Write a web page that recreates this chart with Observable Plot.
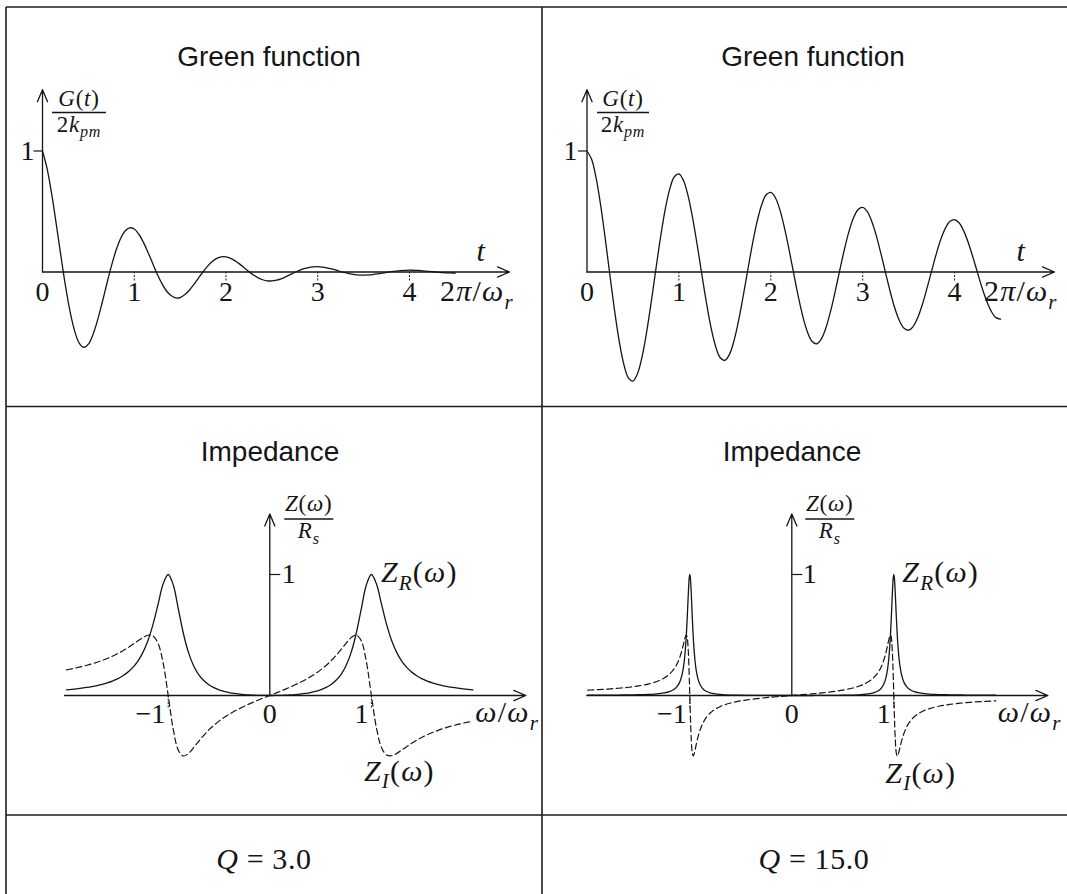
<!DOCTYPE html>
<html>
<head>
<meta charset="utf-8">
<script src="https://cdn.jsdelivr.net/npm/d3@7"></script>
<script src="https://cdn.jsdelivr.net/npm/@observablehq/plot@0.6"></script>
<style>
  html, body { margin: 0; padding: 0; background: #fff; }
  #figure { position: relative; width: 1067px; height: 894px; overflow: hidden; background: #fff; }
</style>
</head>
<body>
<div id="figure"></div>
<script>
// ---- Green function G(t)/2k_pm, t in units of 2π/ω_r ----
const greenT = [0,0.05,0.1,0.15,0.2,0.25,0.3,0.35,0.4,0.45,0.5,0.55,0.6,0.65,0.7,0.75,0.8,0.85,0.9,0.95,1,1.05,1.1,1.15,1.2,1.25,1.3,1.35,1.4,1.45,1.5,1.55,1.6,1.65,1.7,1.75,1.8,1.85,1.9,1.95,2,2.05,2.1,2.15,2.2,2.25,2.3,2.35,2.4,2.45,2.5,2.55,2.6,2.65,2.7,2.75,2.8,2.85,2.9,2.95,3,3.05,3.1,3.15,3.2,3.25,3.3,3.35,3.4,3.45,3.5,3.55,3.6,3.65,3.7,3.75,3.8,3.85,3.9,3.95,4,4.05,4.1,4.15,4.2,4.25,4.3,4.35,4.4,4.45,4.5];
const greenQ3 = [1.000,0.855,0.645,0.396,0.135,-0.113,-0.326,-0.487,-0.587,-0.622,
  -0.596,-0.517,-0.398,-0.254,-0.101,0.047,0.175,0.275,0.339,0.365,
  0.355,0.312,0.245,0.162,0.072,-0.016,-0.093,-0.155,-0.195,-0.214,
  -0.211,-0.188,-0.151,-0.103,-0.050,0.002,0.049,0.086,0.112,0.125,
  0.125,0.113,0.092,0.065,0.034,0.003,-0.025,-0.048,-0.064,-0.073,
  -0.074,-0.068,-0.056,-0.040,-0.022,-0.004,0.013,0.027,0.037,0.042,
  0.044,0.041,0.034,0.025,0.015,0.004,-0.006,-0.015,-0.021,-0.025,
  -0.026,-0.024,-0.021,-0.016,-0.010,-0.003,0.003,0.008,0.012,0.014,
  0.015,0.014,0.013,0.010,0.006,0.002,-0.001,-0.004,-0.007,-0.008,-0.009];
const greenQ15 = [1.000,0.931,0.773,0.544,0.267,-0.031,-0.319,-0.570,-0.761,-0.875,
  -0.901,-0.839,-0.697,-0.491,-0.242,0.026,0.286,0.513,0.685,0.787,
  0.811,0.756,0.629,0.443,0.219,-0.022,-0.256,-0.461,-0.616,-0.709,
  -0.731,-0.681,-0.567,-0.400,-0.198,0.019,0.230,0.414,0.554,0.638,
  0.658,0.614,0.511,0.361,0.180,-0.016,-0.206,-0.372,-0.498,-0.574,
  -0.593,-0.553,-0.461,-0.326,-0.163,0.013,0.184,0.334,0.448,0.517,
  0.534,0.499,0.416,0.295,0.147,-0.011,-0.165,-0.300,-0.403,-0.465,
  -0.481,-0.449,-0.375,-0.266,-0.133,0.009,0.148,0.270,0.363,0.419,
  0.433,0.405,0.338,0.240,0.121,-0.008,-0.133,-0.242,-0.326,-0.377,-0.390];
const greenTicks = [1, 2, 3, 4];
const greenTickLabels = [0, 1, 2, 3, 4];

// ---- Impedance Z(ω)/R_s, ω in units of ω_r ----
const omegaQ3 = [-2,-1.95,-1.9,-1.85,-1.8,-1.75,-1.7,-1.65,-1.6,-1.55,-1.5,-1.45,-1.4,-1.35,-1.3,-1.25,-1.2,-1.15,-1.1,-1.05,-1,-0.95,-0.9,-0.85,-0.8,-0.75,-0.7,-0.65,-0.6,-0.55,-0.5,-0.45,-0.4,-0.35,-0.3,-0.25,-0.2,-0.15,-0.1,-0.05,0,0.05,0.1,0.15,0.2,0.25,0.3,0.35,0.4,0.45,0.5,0.55,0.6,0.65,0.7,0.75,0.8,0.85,0.9,0.95,1,1.05,1.1,1.15,1.2,1.25,1.3,1.35,1.4,1.45,1.5,1.55,1.6,1.65,1.7,1.75,1.8,1.85,1.9,1.95,2];
const zRealQ3 = [0.0471,0.0510,0.0556,0.0609,0.0669,0.0741,0.0825,0.0925,0.1047,0.1195,0.1379,0.1612,0.1911,0.2304,0.2829,0.3543,0.4525,0.5856,0.7530,0.9210,1,0.9134,0.7137,0.5104,0.3543,0.2462,0.1731,0.1234,0.0890,0.0646,0.0471,0.0342,0.0246,0.0174,0.0119,0.0078,0.0048,0.0026,0.0011,0.0003,0,0.0003,0.0011,0.0026,0.0048,0.0078,0.0119,0.0174,0.0246,0.0342,0.0471,0.0646,0.0890,0.1234,0.1731,0.2462,0.3543,0.5104,0.7137,0.9134,1,0.9210,0.7530,0.5856,0.4525,0.3543,0.2829,0.2304,0.1911,0.1612,0.1379,0.1195,0.1047,0.0925,0.0825,0.0741,0.0669,0.0609,0.0556,0.0510,0.0471];
const zImagQ3 = [0.2118,0.2201,0.2292,0.2391,0.2499,0.2619,0.2751,0.2898,0.3061,0.3244,0.3448,0.3677,0.3932,0.4211,0.4504,0.4783,0.4977,0.4926,0.4313,0.2697,0,-0.2812,-0.4520,-0.4999,-0.4783,-0.4308,-0.3783,-0.3289,-0.2847,-0.2459,-0.2118,-0.1817,-0.1548,-0.1306,-0.1086,-0.0882,-0.0691,-0.0510,-0.0336,-0.0167,0,0.0167,0.0336,0.0510,0.0691,0.0882,0.1086,0.1306,0.1548,0.1817,0.2118,0.2459,0.2847,0.3289,0.3783,0.4308,0.4783,0.4999,0.4520,0.2812,0,-0.2697,-0.4313,-0.4926,-0.4977,-0.4783,-0.4504,-0.4211,-0.3932,-0.3677,-0.3448,-0.3244,-0.3061,-0.2898,-0.2751,-0.2619,-0.2499,-0.2391,-0.2292,-0.2201,-0.2118];

const omegaQ15 = [-2,-1.95,-1.9,-1.85,-1.8,-1.75,-1.7,-1.65,-1.6,-1.55,-1.5,-1.45,-1.4,-1.35,-1.3,-1.25,-1.2,-1.16,-1.13,-1.1,-1.08,-1.06,-1.05,-1.04,-1.034,-1.025,-1.02,-1.015,-1.01,-1.005,-1,-0.995,-0.99,-0.985,-0.98,-0.975,-0.967,-0.96,-0.95,-0.94,-0.92,-0.9,-0.87,-0.84,-0.8,-0.75,-0.7,-0.65,-0.6,-0.55,-0.5,-0.45,-0.4,-0.35,-0.3,-0.25,-0.2,-0.15,-0.1,-0.05,
  0,
  0.05,0.1,0.15,0.2,0.25,0.3,0.35,0.4,0.45,0.5,0.55,0.6,0.65,0.7,0.75,0.8,0.84,0.87,0.9,0.92,0.94,0.95,0.96,0.967,0.975,0.98,0.985,0.99,0.995,1,1.005,1.01,1.015,1.02,1.025,1.034,1.04,1.05,1.06,1.08,1.1,1.13,1.16,1.2,1.25,1.3,1.35,1.4,1.45,1.5,1.55,1.6,1.65,1.7,1.75,1.8,1.85,1.9,1.95,2];
const zRealQ15 = [0.0020,0.0021,0.0024,0.0026,0.0029,0.0032,0.0036,0.0041,0.0047,0.0054,0.0064,0.0076,0.0094,0.0118,0.0155,0.0215,0.0320,0.0477,0.0689,0.1087,0.1577,0.2464,0.3181,0.4193,0.4984,0.6456,0.7391,0.8337,0.9182,0.9781,1,0.9779,0.9167,0.8295,0.7313,0.6341,0.4966,0.3999,0.2967,0.2247,0.1375,0.0907,0.0539,0.0349,0.0215,0.0129,0.0083,0.0056,0.0039,0.0028,0.0020,0.0014,0.0010,0.0007,0.0005,0.0003,0.0002,0.0001,0.0000,0.0000,
  0,
  0.0000,0.0000,0.0001,0.0002,0.0003,0.0005,0.0007,0.0010,0.0014,0.0020,0.0028,0.0039,0.0056,0.0083,0.0129,0.0215,0.0349,0.0539,0.0907,0.1375,0.2247,0.2967,0.3999,0.4966,0.6341,0.7313,0.8295,0.9167,0.9779,1,0.9781,0.9182,0.8337,0.7391,0.6456,0.4984,0.4193,0.3181,0.2464,0.1577,0.1087,0.0689,0.0477,0.0320,0.0215,0.0155,0.0118,0.0094,0.0076,0.0064,0.0054,0.0047,0.0041,0.0036,0.0032,0.0029,0.0026,0.0024,0.0021,0.0020];
const zImagQ15 = [0.0444,0.0463,0.0484,0.0508,0.0534,0.0564,0.0598,0.0636,0.0681,0.0733,0.0795,0.0870,0.0963,0.1081,0.1237,0.1450,0.1760,0.2131,0.2533,0.3113,0.3645,0.4309,0.4657,0.4934,0.5000,0.4783,0.4391,0.3724,0.2741,0.1464,0,-0.1471,-0.2764,-0.3761,-0.4433,-0.4817,-0.5000,-0.4899,-0.4568,-0.4174,-0.3444,-0.2872,-0.2257,-0.1836,-0.1450,-0.1128,-0.0907,-0.0746,-0.0623,-0.0524,-0.0444,-0.0376,-0.0317,-0.0266,-0.0220,-0.0178,-0.0139,-0.0102,-0.0067,-0.0033,
  0,
  0.0033,0.0067,0.0102,0.0139,0.0178,0.0220,0.0266,0.0317,0.0376,0.0444,0.0524,0.0623,0.0746,0.0907,0.1128,0.1450,0.1836,0.2257,0.2872,0.3444,0.4174,0.4568,0.4899,0.5000,0.4817,0.4433,0.3761,0.2764,0.1471,0,-0.1464,-0.2741,-0.3724,-0.4391,-0.4783,-0.5000,-0.4934,-0.4657,-0.4309,-0.3645,-0.3113,-0.2533,-0.2131,-0.1760,-0.1450,-0.1237,-0.1081,-0.0963,-0.0870,-0.0795,-0.0733,-0.0681,-0.0636,-0.0598,-0.0564,-0.0534,-0.0508,-0.0484,-0.0463,-0.0444];
const impTicks = [-1, 1];
const impTickLabels = [-1, 0, 1];

const qLabels = ["3.0", "15.0"];
const panelTitles = ["Green function", "Impedance"];

// ---- drawing ----
const INK = "#151515";
const SERIF = "'Liberation Serif', 'Times New Roman', serif";
const SANS = "'Liberation Sans', Arial, sans-serif";
const MATH_SIZE = 30;
const FRAC_SIZE = 23;
const fig = document.getElementById("figure");

const greenRows = greenT.map((t, i) => ({t, q3: greenQ3[i], q15: greenQ15[i]}));
const impRowsQ3 = omegaQ3.map((w, i) => ({w, re: zRealQ3[i], im: zImagQ3[i]}));
const impRowsQ15 = omegaQ15.map((w, i) => ({w, re: zRealQ15[i], im: zImagQ15[i]}));

function makePanel({left, top, width, height, x, y, marks}) {
  const svg = Plot.plot({
    width, height, margin: 0,
    x: {...x, axis: null},
    y: {...y, axis: null},
    style: {background: "transparent", overflow: "visible"},
    marks
  });
  Object.assign(svg.style, {position: "absolute", left: left + "px", top: top + "px", maxWidth: "none"});
  fig.appendChild(svg);
  return svg;
}

// text with italic parts and subscripts, placed in pixel space
function mathText(svg, px, py, parts, size, anchor = "start", spacing = 0.6) {
  const text = d3.select(svg).append("text")
    .attr("x", px).attr("y", py)
    .attr("font-family", SERIF).attr("font-size", size)
    .attr("letter-spacing", spacing)
    .attr("text-anchor", anchor).attr("fill", INK);
  const shift = size * 0.25;
  let lowered = false;
  for (const p of parts) {
    const span = text.append("tspan").text(p.t);
    if (p.it) span.attr("font-style", "italic");
    if (p.sub) {
      span.attr("font-size", size * 0.7);
      if (!lowered) { span.attr("dy", shift); lowered = true; }
    } else if (lowered) {
      span.attr("dy", -shift); lowered = false;
    }
  }
  return text;
}

function fraction(svg, x1, x2, barY, num, den, size, numGap, denGap) {
  const cx = (x1 + x2) / 2;
  mathText(svg, cx, barY - numGap, num, size, "middle", 0.8);
  d3.select(svg).append("line")
    .attr("x1", x1).attr("x2", x2).attr("y1", barY).attr("y2", barY)
    .attr("stroke", INK).attr("stroke-width", 1.4);
  mathText(svg, cx, barY + denGap, den, size, "middle", 0.8);
}

function title(svg, cx, baseline, label) {
  d3.select(svg).append("text")
    .attr("x", cx).attr("y", baseline)
    .attr("font-family", SANS).attr("font-size", 28)
    .attr("text-anchor", "middle").attr("fill", INK)
    .text(label);
}

const axisStyle = {stroke: INK, strokeWidth: 1.3, headLength: 15, headAngle: 46};
const labelStyle = {fontFamily: SERIF, fontSize: 28, fill: INK};
const minus = d => (d < 0 ? "\u2212" + Math.abs(d) : String(d));

// Green function panel
function greenPanel({left, top, width, height, xRange, xEnd, key, oneDx, tLabelDx, unitDx, barX}) {
  const pxPerT = (xRange[1] - xRange[0]) / 5;
  const pxPerG = 121;
  const svg = makePanel({
    left, top, width, height,
    x: {domain: [0, 5], range: xRange},
    y: {domain: [0, 1], range: [263.5, 142.5]},
    marks: [
      Plot.arrow([0], {x1: 0, y1: 0, x2: xEnd, y2: 0, ...axisStyle}),
      Plot.arrow([0], {x1: 0, y1: 0, x2: 0, y2: 1.506, ...axisStyle}),
      Plot.ruleX(greenTicks, {x: d => d, y1: 0, y2: -9 / pxPerG, stroke: INK, strokeWidth: 1, strokeDasharray: "2,1.5"}),
      Plot.ruleY([1], {y: d => d, x1: 0, x2: -8.5 / pxPerT, stroke: INK, strokeWidth: 1.2}),
      Plot.text(greenTickLabels, {x: d => d, y: 0, text: d => String(d), dy: 28.5, lineAnchor: "bottom", textAnchor: "middle", ...labelStyle}),
      Plot.text([1], {x: 0, y: d => d, text: d => String(d), dx: oneDx, textAnchor: "end", lineAnchor: "middle", ...labelStyle}),
      Plot.line(greenRows, {x: "t", y: key, curve: "catmull-rom", stroke: INK, strokeWidth: 1.3})
    ]
  });
  const sx = svg.scale("x"), sy = svg.scale("y");
  const x0 = sx.apply(0), y0 = sy.apply(0), y1 = sy.apply(1), xe = sx.apply(xEnd);
  mathText(svg, xe + tLabelDx, y0 - 11, [{t: "t", it: true}], MATH_SIZE, "middle");
  mathText(svg, xe + unitDx, y0 + 29.5, [{t: "2"}, {t: "π", it: true}, {t: "/"}, {t: "ω", it: true}, {t: "r", it: true, sub: true}], MATH_SIZE, "start", 1.2);
  fraction(svg, x0 + barX[0], x0 + barX[1], y1 - 38,
    [{t: "G", it: true}, {t: "("}, {t: "t", it: true}, {t: ")"}],
    [{t: "2"}, {t: "k", it: true}, {t: "pm", it: true, sub: true}], FRAC_SIZE, 6.5, 19);
  return svg;
}

// Impedance panel
function impPanel({left, top, width, height, xRange, xStart, xEnd, rows, oneDx, unitDx, zrDx, ziDx, ziDy, barX}) {
  const pxPerW = (xRange[1] - xRange[0]) / 2;
  const pxPerZ = 121;
  const svg = makePanel({
    left, top, width, height,
    x: {domain: [-1, 1], range: xRange},
    y: {domain: [0, 1], range: [288, 167]},
    marks: [
      Plot.arrow([0], {x1: xStart, y1: 0, x2: xEnd, y2: 0, ...axisStyle}),
      Plot.arrow([0], {x1: 0, y1: 0, x2: 0, y2: 1.5, ...axisStyle}),
      Plot.ruleX(impTicks, {x: d => d, y1: 0, y2: -13 / pxPerZ, stroke: INK, strokeWidth: 1, strokeDasharray: "2,1.5"}),
      Plot.ruleY([1], {y: d => d, x1: 0, x2: 11 / pxPerW, stroke: INK, strokeWidth: 1.2}),
      Plot.text(impTickLabels.filter(d => d !== 0), {x: d => d, y: 0, text: minus, dx: -3, dy: 27, lineAnchor: "bottom", textAnchor: "end", ...labelStyle}),
      Plot.text(impTickLabels.filter(d => d === 0), {x: d => d, y: 0, text: minus, dy: 27, lineAnchor: "bottom", textAnchor: "middle", ...labelStyle}),
      Plot.text([1], {x: 0, y: d => d, text: d => String(d), dx: oneDx, textAnchor: "start", lineAnchor: "middle", ...labelStyle}),
      Plot.line(rows, {x: "w", y: "im", curve: "catmull-rom", stroke: INK, strokeWidth: 1.2, strokeDasharray: "6,3.5"}),
      Plot.line(rows, {x: "w", y: "re", curve: "catmull-rom", stroke: INK, strokeWidth: 1.3})
    ]
  });
  const sx = svg.scale("x"), sy = svg.scale("y");
  const x0 = sx.apply(0), y0 = sy.apply(0), y1 = sy.apply(1), xe = sx.apply(xEnd);
  mathText(svg, xe + unitDx, y0 + 27, [{t: "ω", it: true}, {t: "/"}, {t: "ω", it: true}, {t: "r", it: true, sub: true}], MATH_SIZE, "start", 1.2);
  mathText(svg, sx.apply(1) + zrDx, y1 + 8, [{t: "Z", it: true}, {t: "R", it: true, sub: true}, {t: "("}, {t: "ω", it: true}, {t: ")"}], MATH_SIZE, "start", 1.2);
  mathText(svg, sx.apply(1) + ziDx, sy.apply(-0.5) + ziDy, [{t: "Z", it: true}, {t: "I", it: true, sub: true}, {t: "("}, {t: "ω", it: true}, {t: ")"}], MATH_SIZE, "start", 1.2);
  fraction(svg, x0 + barX[0], x0 + barX[1], y1 - 55,
    [{t: "Z", it: true}, {t: "("}, {t: "ω", it: true}, {t: ")"}],
    [{t: "R", it: true}, {t: "s", it: true, sub: true}], FRAC_SIZE, 8, 19);
  return svg;
}

const gA = greenPanel({left: 7, top: 8, width: 534, height: 397, xRange: [35, 493.75], xEnd: 5.09, key: "q3", oneDx: -8, tLabelDx: -28, unitDx: -69, barX: [10, 64]});
title(gA, 262, 58, panelTitles[0]);
const gB = greenPanel({left: 543, top: 8, width: 524, height: 397, xRange: [43.5, 503], xEnd: 5.087, key: "q15", oneDx: -9.5, tLabelDx: -33, unitDx: -70, barX: [10.5, 62.5]});
title(gB, 270, 58, panelTitles[0]);
const zC = impPanel({left: 7, top: 407, width: 534, height: 407, xRange: [160.7, 363.9], xStart: -2.02, xEnd: 2.52, rows: impRowsQ3, oneDx: 12, unitDx: -50, zrDx: 10, ziDx: -7, ziDy: 25, barX: [15, 64]});
title(zC, 263, 54, panelTitles[1]);
const zD = impPanel({left: 543, top: 407, width: 524, height: 407, xRange: [146.3, 350.3], xStart: -2.01, xEnd: 2.51, rows: impRowsQ15, oneDx: 11, unitDx: -49.5, zrDx: 9, ziDx: -8, ziDy: 27, barX: [14, 63]});
title(zD, 249, 54, panelTitles[1]);

// table rules and the bottom row of Q values
const frame = d3.select(fig).append("svg")
  .attr("width", 1067).attr("height", 894)
  .style("position", "absolute").style("left", "0px").style("top", "0px");
const rules = [[6, 7, 1067, 7], [6, 406.5, 1067, 406.5], [6, 815, 1067, 815], [6, 7, 6, 894], [542, 7, 542, 894]];
frame.selectAll("line").data(rules).join("line")
  .attr("x1", d => d[0]).attr("y1", d => d[1]).attr("x2", d => d[2]).attr("y2", d => d[3])
  .attr("stroke", "#1c1c1c").attr("stroke-width", 1.6);
mathText(frame.node(), 264, 869, [{t: "Q", it: true}, {t: " = " + qLabels[0]}], 30, "middle", 0.6);
mathText(frame.node(), 814, 869, [{t: "Q", it: true}, {t: " = " + qLabels[1]}], 30, "middle", 0.6);
</script>
</body>
</html>
